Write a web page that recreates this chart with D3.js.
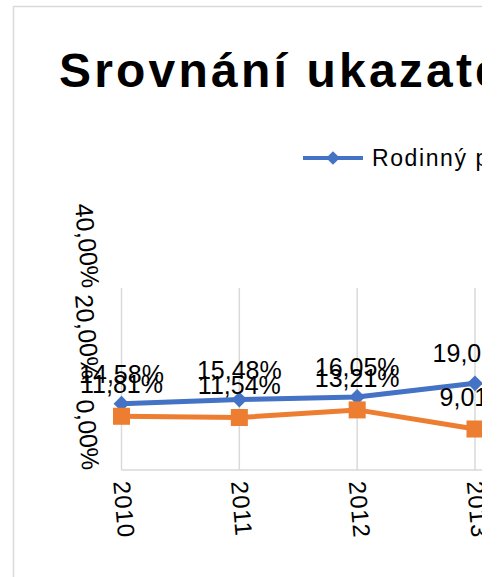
<!DOCTYPE html>
<html>
<head>
<meta charset="utf-8">
<script src="https://cdn.jsdelivr.net/npm/d3@7"></script>
<style>
  html, body { margin: 0; padding: 0; background: #fff; overflow: hidden; }
  svg { display: block; }
</style>
</head>
<body>
<script>
// Ukazatel v procentech za jednotlivé roky
const years = ["2010", "2011", "2012", "2013"];
const rodinnyPodnik = [14.58, 15.48, 16.05, 19.05];
const druhaRada = [11.81, 11.54, 13.21, 9.01];
const yTicks = [0, 20, 40];
const title = "Srovnání ukazatelů";
const legendLabel = "Rodinný podnik";

const W = 500, H = 577;
const BLUE = "#4472C4", ORANGE = "#ED7D31", GRID = "#D9D9D9";
const FONT = "'Liberation Sans', Arial, sans-serif";

const fmt = v => d3.format(".2f")(v).replace(".", ",") + "%";

const svg = d3.select("body").append("svg")
  .attr("width", W).attr("height", H);

// výřez oblasti grafu
svg.append("defs").append("clipPath").attr("id", "chartClip")
  .append("rect").attr("x", 0).attr("y", 0).attr("width", 482).attr("height", H);

const g = svg.append("g").attr("clip-path", "url(#chartClip)");

// rámeček grafu
g.append("rect")
  .attr("x", 13.5).attr("y", 6.5).attr("width", 700).attr("height", 700)
  .attr("fill", "#fff").attr("stroke", GRID).attr("stroke-width", 1.5);

// nadpis
g.append("text")
  .attr("x", 59).attr("y", 87)
  .attr("font-family", FONT).attr("font-weight", "bold")
  .attr("font-size", 48).attr("letter-spacing", 3.2)
  .attr("fill", "#000")
  .text(title);

// legenda
const lg = g.append("g").attr("transform", "translate(303,158)");
lg.append("line").attr("x1", 0).attr("x2", 60).attr("y1", 0).attr("y2", 0)
  .attr("stroke", BLUE).attr("stroke-width", 4);
lg.append("path").attr("d", d3.symbol(d3.symbolDiamond2, 120)())
  .attr("transform", "translate(30,0)").attr("fill", BLUE);
lg.append("text").attr("x", 69).attr("y", 8)
  .attr("font-family", FONT).attr("font-size", 23).attr("fill", "#000")
  .attr("letter-spacing", 1.6)
  .text(legendLabel);

// měřítka
const x = d3.scalePoint().domain(years).range([121.5, 475]);
const y = d3.scaleLinear().domain([0, 40]).range([470, 288]);

// svislé mřížky
g.append("g").selectAll("line").data(years).join("line")
  .attr("x1", d => x(d)).attr("x2", d => x(d))
  .attr("y1", y(40)).attr("y2", y(0))
  .attr("stroke", GRID).attr("stroke-width", 1.5);

// vodorovná osa
g.append("line").attr("x1", x(years[0])).attr("x2", 700)
  .attr("y1", y(0)).attr("y2", y(0))
  .attr("stroke", GRID).attr("stroke-width", 1.5);

// popisky osy Y
g.append("g").selectAll("text").data(yTicks).join("text")
  .attr("transform", d => `translate(91,${y(d)}) rotate(85)`)
  .attr("text-anchor", "end").attr("dy", "0.35em")
  .attr("font-family", FONT).attr("font-size", 25).attr("fill", "#000")
  .text(d => fmt(d));

// popisky osy X
g.append("g").selectAll("text").data(years).join("text")
  .attr("transform", d => `translate(${x(d)},481) rotate(85)`)
  .attr("text-anchor", "start").attr("dy", "0.35em")
  .attr("font-family", FONT).attr("font-size", 24).attr("fill", "#000")
  .attr("letter-spacing", 1)
  .text(d => d);

// řady
const series = [
  { values: rodinnyPodnik, color: BLUE, symbol: d3.symbolDiamond2, size: 160, offset: 21 },
  { values: druhaRada, color: ORANGE, symbol: d3.symbolSquare, size: 290, offset: 23 }
];

const line = d3.line().x((d, i) => x(years[i])).y(d => y(d));

series.forEach(s => {
  g.append("path").datum(s.values)
    .attr("d", line).attr("fill", "none")
    .attr("stroke", s.color).attr("stroke-width", 5)
    .attr("stroke-linejoin", "round");
  g.append("g").selectAll("path").data(s.values).join("path")
    .attr("d", d3.symbol(s.symbol, s.size)())
    .attr("transform", (d, i) => `translate(${x(years[i])},${y(d)})`)
    .attr("fill", s.color);
});

// popisky hodnot
series.forEach(s => {
  g.append("g").selectAll("text").data(s.values).join("text")
    .attr("x", (d, i) => x(years[i])).attr("y", d => y(d) - s.offset)
    .attr("text-anchor", "middle")
    .attr("font-family", FONT).attr("font-size", 25).attr("fill", "#000")
    .text(d => fmt(d));
});
</script>
</body>
</html>
